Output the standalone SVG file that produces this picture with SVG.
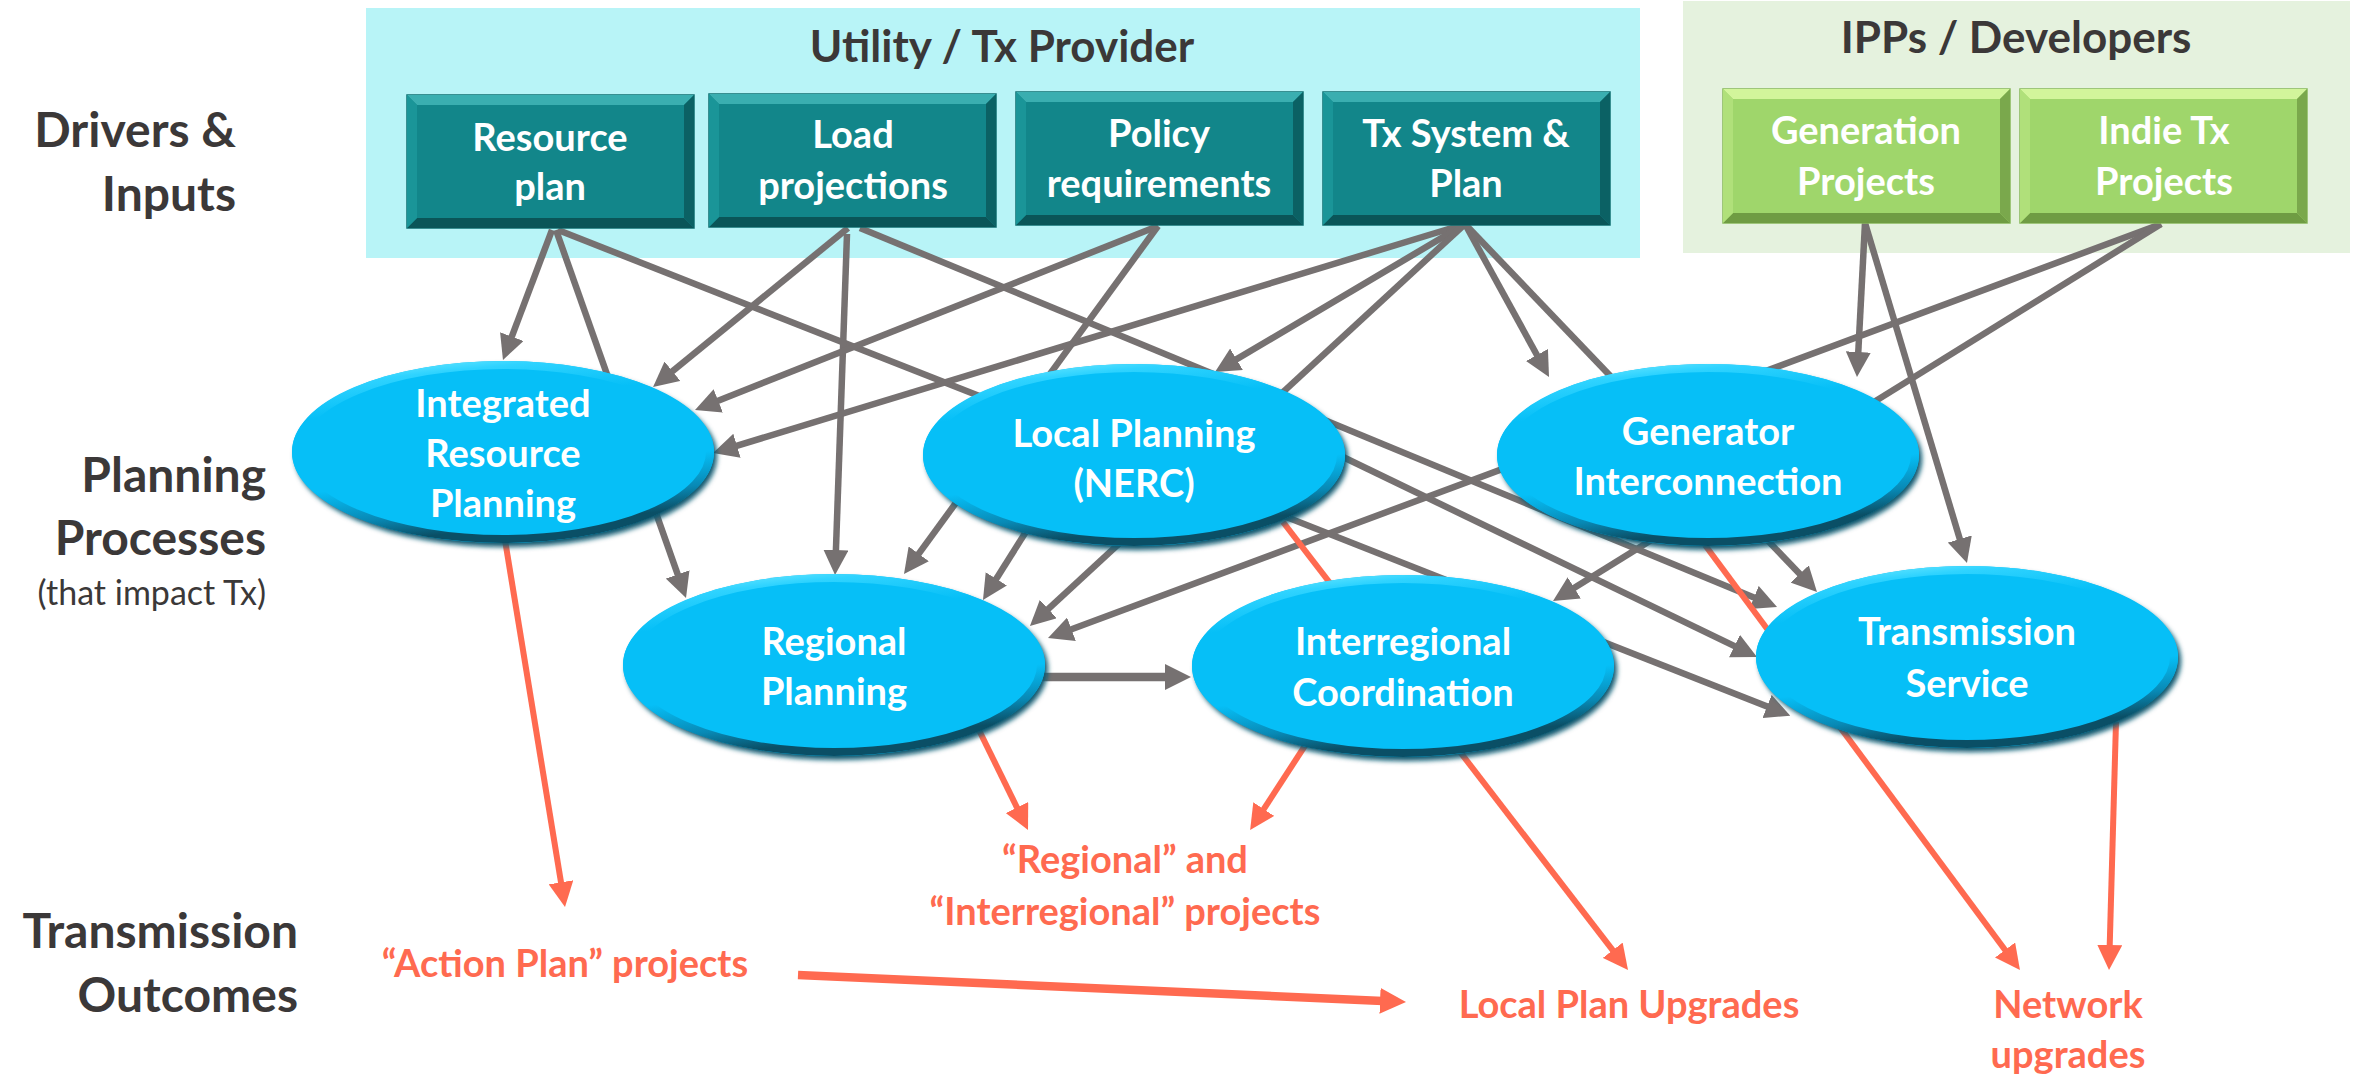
<svg xmlns="http://www.w3.org/2000/svg" xmlns:xlink="http://www.w3.org/1999/xlink" width="2356" height="1079" viewBox="0 0 2356 1079">
<defs>
<style>
.lbl{font-family:Lato,'Open Sans','Liberation Sans',sans-serif;font-weight:700;font-size:48px;fill:#3B3838;text-anchor:end}
.sub{font-family:Lato,'Open Sans','Liberation Sans',sans-serif;font-weight:400;font-size:34px;fill:#3B3838;text-anchor:end}
.ttl{font-family:Lato,'Open Sans','Liberation Sans',sans-serif;font-weight:700;font-size:44px;fill:#3B3838;text-anchor:middle}
.wt{font-family:Lato,'Open Sans','Liberation Sans',sans-serif;font-weight:700;font-size:38px;fill:#FFFFFF;text-anchor:middle}
.out{font-family:Lato,'Open Sans','Liberation Sans',sans-serif;font-weight:700;font-size:38px;fill:#FF6A50;text-anchor:middle}
.g{stroke:#767171;stroke-width:6.5;fill:none;marker-end:url(#arrG)}
.gb{stroke:#767171;stroke-width:8.5;fill:none;marker-end:url(#arrGB)}
.o{stroke:#FF6A50;stroke-width:6;fill:none;marker-end:url(#arrO)}
.ob{stroke:#FF6A50;stroke-width:8.5;fill:none;marker-end:url(#arrOB)}
.esh{fill:#0A5870;filter:url(#blur)}
.ef{fill:#06BFF7}
.er{fill:none;stroke:url(#rim);stroke-width:8}
</style>
<filter id="blur" x="-10%" y="-10%" width="120%" height="130%"><feGaussianBlur stdDeviation="2.5"/></filter>
<linearGradient id="rim" x1="0" y1="0" x2="0.25" y2="1">
<stop offset="0" stop-color="#8AF2FF"/>
<stop offset="0.12" stop-color="#2FD3FF"/>
<stop offset="0.3" stop-color="#06BFF7"/>
<stop offset="0.7" stop-color="#06BFF7"/>
<stop offset="0.88" stop-color="#0889B5"/>
<stop offset="1" stop-color="#0A4F66"/>
</linearGradient>
<marker id="arrG" markerUnits="userSpaceOnUse" markerWidth="25" markerHeight="25" refX="15" refY="12.5" orient="auto"><path d="M0,0 L25,12.5 L0,25 z" fill="#767171"/></marker>
<marker id="arrGB" markerUnits="userSpaceOnUse" markerWidth="26" markerHeight="26" refX="14" refY="13" orient="auto"><path d="M0,0 L26,13 L0,26 z" fill="#767171"/></marker>
<marker id="arrO" markerUnits="userSpaceOnUse" markerWidth="25" markerHeight="25" refX="15" refY="12.5" orient="auto"><path d="M0,0 L25,12.5 L0,25 z" fill="#FF6A50"/></marker>
<marker id="arrOB" markerUnits="userSpaceOnUse" markerWidth="26" markerHeight="26" refX="14" refY="13" orient="auto"><path d="M0,0 L26,13 L0,26 z" fill="#FF6A50"/></marker>
<symbol id="teal" overflow="visible">
<rect x="0" y="0" width="287" height="133" fill="#12868A" stroke="#0E6D70" stroke-width="1.5"/>
<polygon points="0,0 287,0 277,10 10,10" fill="#3AAEB0"/>
<polygon points="0,133 287,133 277,123 10,123" fill="#0A5558"/>
<polygon points="0,0 10,10 10,123 0,133" fill="#1A9598"/>
<polygon points="287,0 277,10 277,123 287,133" fill="#0B6164"/>
</symbol>
<symbol id="green" overflow="visible">
<rect x="0" y="0" width="287" height="134" fill="#9FD66B" stroke="#86B85A" stroke-width="1.5"/>
<polygon points="0,0 287,0 277,10 10,10" fill="#D2F59B"/>
<polygon points="0,134 287,134 277,124 10,124" fill="#6F9C43"/>
<polygon points="0,0 10,10 10,124 0,134" fill="#B0E07A"/>
<polygon points="287,0 277,10 277,124 287,134" fill="#7AA84C"/>
</symbol>
</defs>

<rect width="2356" height="1079" fill="#FFFFFF"/>

<g id="panels">
<rect x="366" y="8" width="1274" height="250" fill="#B8F4F7"/>
<rect x="1683" y="1" width="667" height="252" fill="#E5F2DE"/>
<text class="ttl" x="1002" y="62">Utility / Tx Provider</text>
<text class="ttl" x="2016" y="53">IPPs / Developers</text>
</g>

<g id="row-labels">
<text class="lbl" x="236" y="147">Drivers &amp;</text>
<text class="lbl" x="236" y="211">Inputs</text>
<text class="lbl" x="266" y="492">Planning</text>
<text class="lbl" x="266" y="555">Processes</text>
<text class="sub" x="266" y="605">(that impact Tx)</text>
<text class="lbl" x="298" y="948">Transmission</text>
<text class="lbl" x="298" y="1012">Outcomes</text>
</g>

<g id="connectors">
<line class="g" x1="552" y1="230" x2="506.5" y2="350.6"/>
<line class="g" x1="556" y1="230" x2="682.7" y2="588.6"/>
<line class="g" x1="558" y1="230" x2="1781" y2="712"/>
<line class="g" x1="848" y1="228" x2="660.8" y2="380.7"/>
<line class="g" x1="847" y1="234" x2="835.4" y2="565"/>
<line class="g" x1="860" y1="228" x2="1767.8" y2="603.2"/>
<line class="g" x1="1158" y1="226" x2="704.3" y2="406.3"/>
<line class="g" x1="1158" y1="226" x2="909.9" y2="565.9"/>
<line class="g" x1="1465" y1="224" x2="722.6" y2="450.1"/>
<line class="g" x1="1465" y1="224" x2="1223.6" y2="366.9"/>
<line class="g" x1="1465" y1="224" x2="1037.3" y2="619.2"/>
<line class="g" x1="1465" y1="224" x2="1544.2" y2="368.2"/>
<line class="g" x1="1465" y1="224" x2="1810.1" y2="584.8"/>
<line class="g" x1="1865" y1="223" x2="1857.5" y2="367"/>
<line class="g" x1="1865" y1="223" x2="1964.1" y2="553.4"/>
<line class="g" x1="2161" y1="224" x2="1057.4" y2="634.5"/>
<line class="g" x1="2161" y1="224" x2="1561.5" y2="595.7"/>
<line class="g" x1="1027" y1="530" x2="988.3" y2="591.5"/>
<line class="g" x1="1343" y1="457" x2="1748" y2="652.6"/>
<line class="gb" x1="1043" y1="677" x2="1179" y2="677"/>
<line class="o" x1="505" y1="540" x2="563.4" y2="897.1"/>
<line class="o" x1="975" y1="722" x2="1023.6" y2="821"/>
<line class="o" x1="1310" y1="738" x2="1255.6" y2="821.7"/>
<line class="o" x1="1283" y1="522" x2="1621.9" y2="962.1"/>
<line class="o" x1="1705" y1="545" x2="2014" y2="962"/>
<line class="o" x1="2116" y1="722" x2="2109.3" y2="960"/>
<line class="ob" x1="798" y1="975" x2="1394" y2="1001.5"/>
</g>

<g id="resource-plan">
<use href="#teal" x="407" y="95"/>
<text class="wt" x="550" y="151">Resource</text>
<text class="wt" x="550" y="200">plan</text>
</g>
<g id="load-projections">
<use href="#teal" x="709" y="94"/>
<text class="wt" x="853" y="148">Load</text>
<text class="wt" x="853" y="199">projections</text>
</g>
<g id="policy-requirements">
<use href="#teal" x="1016" y="92"/>
<text class="wt" x="1159" y="147">Policy</text>
<text class="wt" x="1159" y="197">requirements</text>
</g>
<g id="tx-system-plan">
<use href="#teal" x="1323" y="92"/>
<text class="wt" x="1466" y="147">Tx System &amp;</text>
<text class="wt" x="1466" y="197">Plan</text>
</g>
<g id="generation-projects">
<use href="#green" x="1723" y="89"/>
<text class="wt" x="1866" y="144">Generation</text>
<text class="wt" x="1866" y="195">Projects</text>
</g>
<g id="indie-tx-projects">
<use href="#green" x="2020" y="89"/>
<text class="wt" x="2164" y="144">Indie Tx</text>
<text class="wt" x="2164" y="195">Projects</text>
</g>

<g id="integrated-resource-planning">
<ellipse class="esh" cx="506" cy="456" rx="211" ry="91"/>
<ellipse class="ef" cx="503" cy="452" rx="211" ry="91"/>
<ellipse class="er" cx="503" cy="452" rx="207" ry="87"/>
<text class="wt" x="503" y="417">Integrated</text>
<text class="wt" x="503" y="467">Resource</text>
<text class="wt" x="503" y="517">Planning</text>
</g>
<g id="local-planning">
<ellipse class="esh" cx="1137" cy="459" rx="211" ry="91"/>
<ellipse class="ef" cx="1134" cy="455" rx="211" ry="91"/>
<ellipse class="er" cx="1134" cy="455" rx="207" ry="87"/>
<text class="wt" x="1134" y="447">Local Planning</text>
<text class="wt" x="1134" y="497">(NERC)</text>
</g>
<g id="generator-interconnection">
<ellipse class="esh" cx="1711" cy="459" rx="211" ry="91"/>
<ellipse class="ef" cx="1708" cy="455" rx="211" ry="91"/>
<ellipse class="er" cx="1708" cy="455" rx="207" ry="87"/>
<text class="wt" x="1708" y="445">Generator</text>
<text class="wt" x="1708" y="495">Interconnection</text>
</g>
<g id="regional-planning">
<ellipse class="esh" cx="837" cy="669" rx="211" ry="91"/>
<ellipse class="ef" cx="834" cy="665" rx="211" ry="91"/>
<ellipse class="er" cx="834" cy="665" rx="207" ry="87"/>
<text class="wt" x="834" y="655">Regional</text>
<text class="wt" x="834" y="705">Planning</text>
</g>
<g id="interregional-coordination">
<ellipse class="esh" cx="1406" cy="670" rx="211" ry="91"/>
<ellipse class="ef" cx="1403" cy="666" rx="211" ry="91"/>
<ellipse class="er" cx="1403" cy="666" rx="207" ry="87"/>
<text class="wt" x="1403" y="655">Interregional</text>
<text class="wt" x="1403" y="706">Coordination</text>
</g>
<g id="transmission-service">
<ellipse class="esh" cx="1970" cy="661" rx="211" ry="91"/>
<ellipse class="ef" cx="1967" cy="657" rx="211" ry="91"/>
<ellipse class="er" cx="1967" cy="657" rx="207" ry="87"/>
<text class="wt" x="1967" y="645">Transmission</text>
<text class="wt" x="1967" y="697">Service</text>
</g>

<g id="action-plan-projects">
<text class="out" x="565" y="977">“Action Plan” projects</text>
</g>
<g id="regional-interregional-projects">
<text class="out" x="1125" y="873">“Regional” and</text>
<text class="out" x="1125" y="925">“Interregional” projects</text>
</g>
<g id="local-plan-upgrades">
<text class="out" x="1629" y="1018">Local Plan Upgrades</text>
</g>
<g id="network-upgrades">
<text class="out" x="2068" y="1018">Network</text>
<text class="out" x="2068" y="1068">upgrades</text>
</g>
</svg>
